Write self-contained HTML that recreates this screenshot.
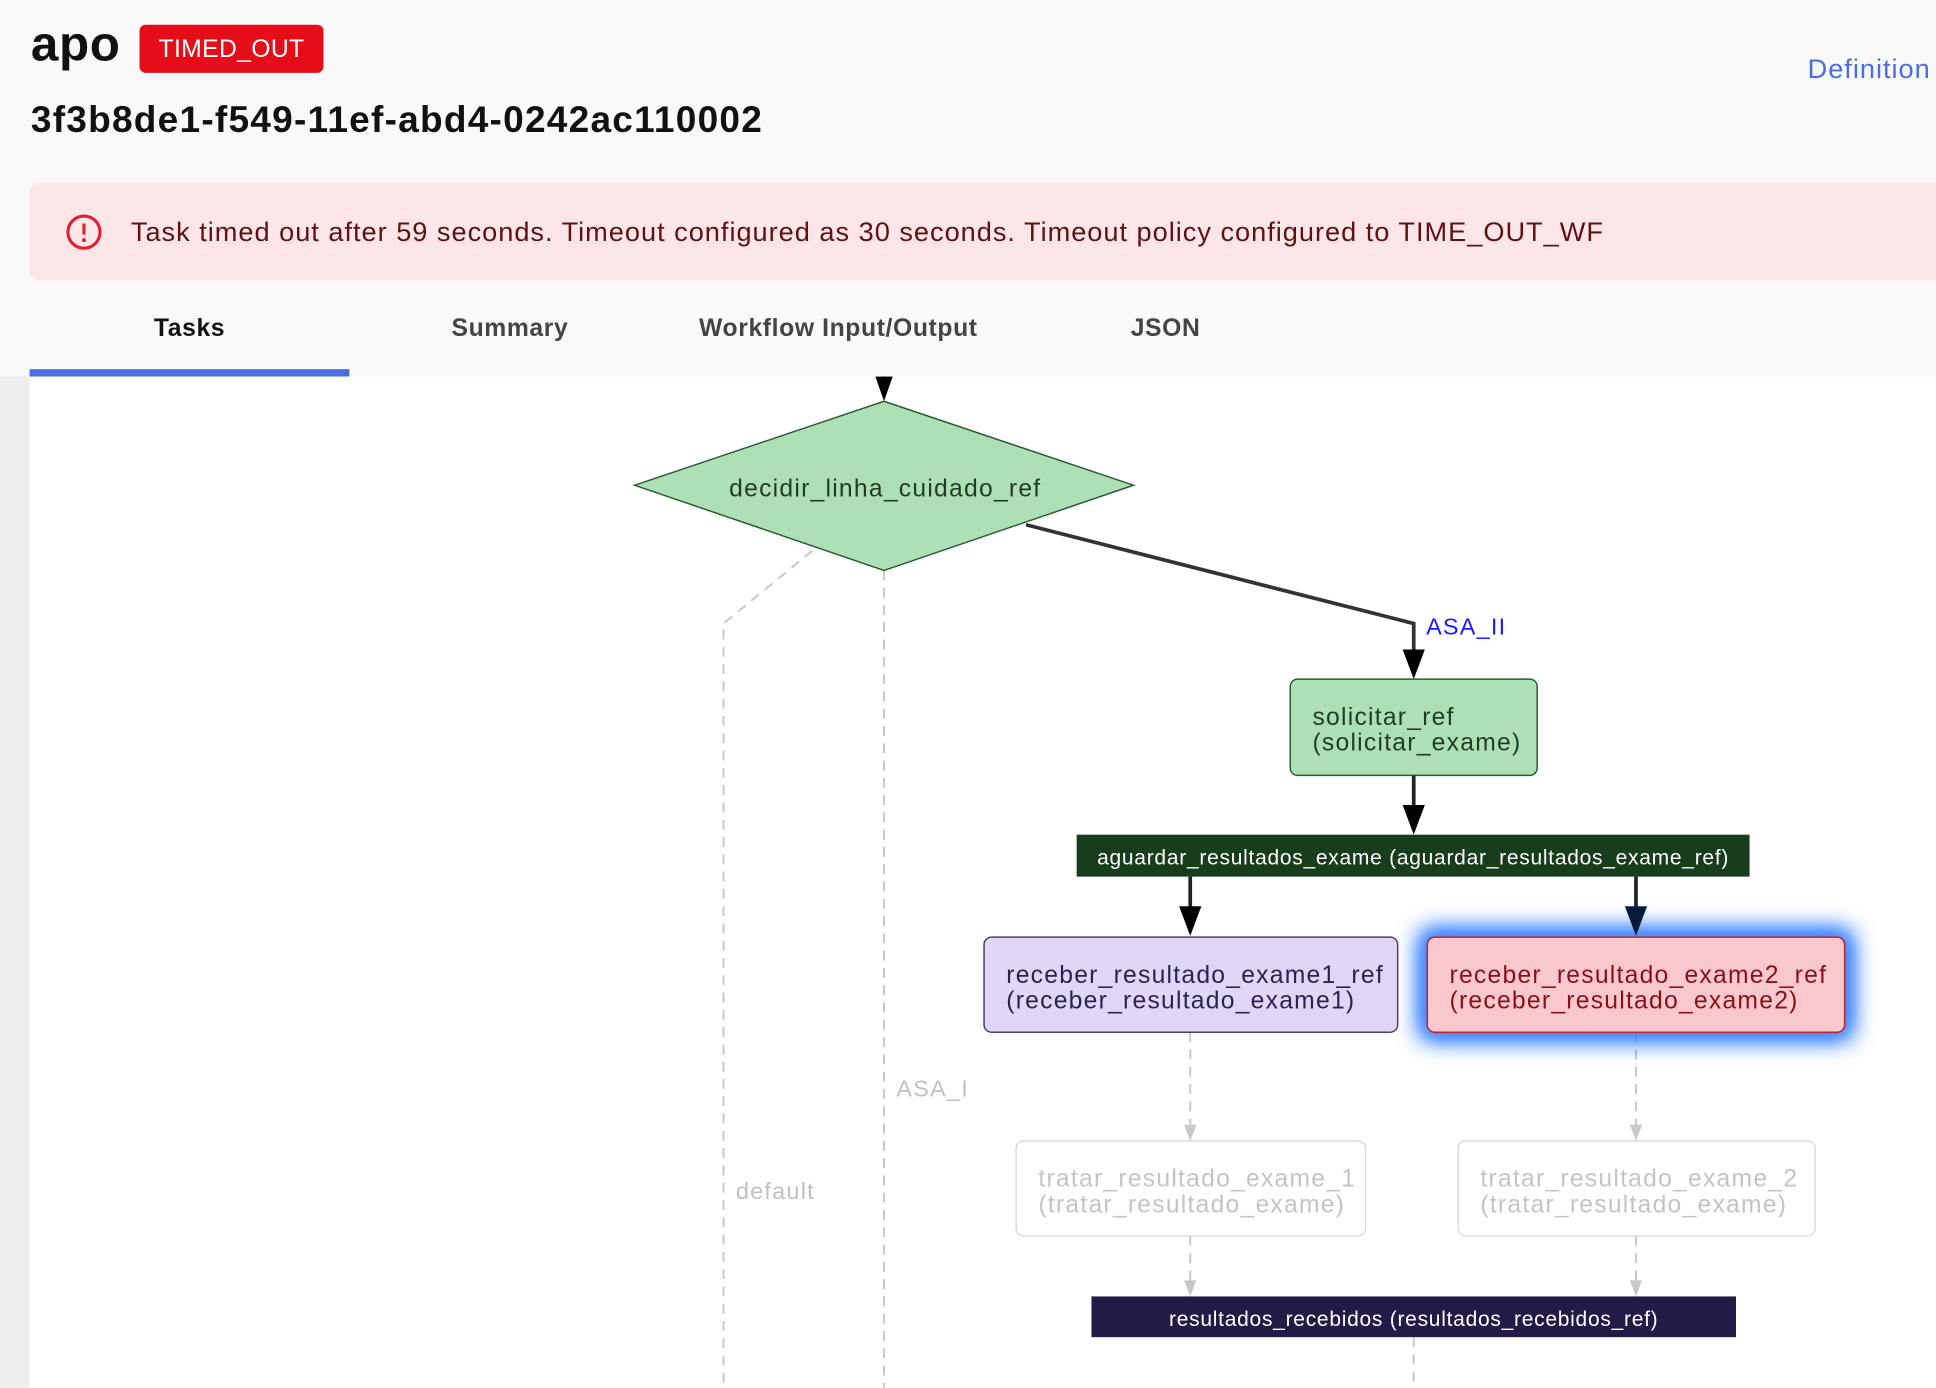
<!DOCTYPE html>
<html><head><meta charset="utf-8"><style>
html,body{margin:0;padding:0;}
body{width:1936px;height:1388px;overflow:hidden;background:#f9f9f9;font-family:"Liberation Sans",sans-serif;}
#w{position:absolute;left:0;top:0;width:1568px;height:1124px;transform:scale(1.234694);transform-origin:0 0;background:#f9f9f9;}
.a{position:absolute;white-space:nowrap;}
svg text{letter-spacing:1px;}
</style></head><body><div id="w">
<div class="a" style="left:25px;top:14px;font-size:40px;font-weight:bold;color:#111;line-height:44px;letter-spacing:0.5px;">apo</div>
<div class="a" style="left:113px;top:20px;width:149px;height:39px;background:#e50d18;border-radius:5px;color:#fff;font-size:20px;line-height:40px;text-align:center;letter-spacing:0.3px;">TIMED_OUT</div>
<div class="a" style="left:1464px;top:43px;font-size:22px;color:#4a6ee0;letter-spacing:0.8px;">Definition</div>
<div class="a" style="left:25px;top:81px;font-size:30px;font-weight:bold;color:#111;letter-spacing:1px;">3f3b8de1-f549-11ef-abd4-0242ac110002</div>
<div class="a" style="left:24px;top:148px;width:1560px;height:79px;background:#fde6e8;border-radius:8px;"></div>
<svg class="a" style="left:52px;top:173px" width="32" height="32"><circle cx="16" cy="15" r="13" fill="none" stroke="#e0202f" stroke-width="2.5"/><line x1="16" y1="8" x2="16" y2="17" stroke="#e0202f" stroke-width="2.5"/><circle cx="16" cy="21.5" r="1.6" fill="#e0202f"/></svg>
<div class="a" style="left:106px;top:175px;font-size:22px;color:#5f1015;letter-spacing:0.8px;">Task timed out after 59 seconds. Timeout configured as 30 seconds. Timeout policy configured to TIME_OUT_WF</div>
<div class="a" style="left:24px;top:255px;width:259px;text-align:center;font-size:20px;font-weight:bold;color:#111;letter-spacing:0.5px;">Tasks</div>
<div class="a" style="left:313px;top:255px;width:200px;text-align:center;font-size:20px;font-weight:bold;color:#444;letter-spacing:0.5px;">Summary</div>
<div class="a" style="left:539px;top:255px;width:280px;text-align:center;font-size:20px;font-weight:bold;color:#444;letter-spacing:0.5px;">Workflow Input/Output</div>
<div class="a" style="left:864px;top:255px;width:160px;text-align:center;font-size:20px;font-weight:bold;color:#444;letter-spacing:0.5px;">JSON</div>
<div class="a" style="left:24px;top:299px;width:259px;height:6px;background:#4a6ee0;"></div>
<div class="a" style="left:0;top:305px;width:24px;height:819px;background:#eeeeee;"></div>
<div class="a" style="left:24px;top:305px;width:1544px;height:819px;background:#fff;"></div>
<svg class="a" style="left:0;top:0" width="1568" height="1124" font-family="Liberation Sans, sans-serif">
<path d="M716,305 L716,310" stroke="#000" stroke-width="3"/>
<path d="M709,305 L723,305 L716,325 z" fill="#000"/>
<g stroke="#c8c8c8" stroke-width="1.6" stroke-dasharray="8,6" fill="none">
<path d="M658,446 L586,505 L586,1124"/>
<path d="M716,462 L716,1124"/>
<path d="M964,836 L964,912"/>
<path d="M1325,836 L1325,912"/>
<path d="M964,1001 L964,1038"/>
<path d="M1325,1001 L1325,1038"/>
<path d="M1145,1083 L1145,1124"/>
</g>
<g fill="#c8c8c8">
<path d="M959,911 L969,911 L964,924 z"/><path d="M1320,911 L1330,911 L1325,924 z"/>
<path d="M959,1037 L969,1037 L964,1050 z"/><path d="M1320,1037 L1330,1037 L1325,1050 z"/>
</g>
<text x="726" y="888" font-size="19" fill="#c0c0c0">ASA_I</text>
<text x="596" y="971" font-size="19" fill="#c0c0c0">default</text>
<polygon points="514,393 716,325 918,393 716,462" fill="#aee0b6" stroke="#2a5a33" stroke-width="1.2"/>
<text x="717" y="402" font-size="20" fill="#1f3d25" text-anchor="middle">decidir_linha_cuidado_ref</text>
<path d="M831,425 L1145,505 L1145,528" stroke="#333" stroke-width="3" fill="none"/>
<path d="M1136,526 L1154,526 L1145,550 z" fill="#000"/>
<text x="1155" y="514" font-size="19" fill="#1a1aff">ASA_II</text>
<rect x="1045" y="550" width="200" height="78" rx="6" fill="#aee0b6" stroke="#2a5a33" stroke-width="1.2"/>
<text x="1063" y="587" font-size="20" fill="#1f3d25">solicitar_ref</text>
<text x="1063" y="608" font-size="20" fill="#1f3d25">(solicitar_exame)</text>
<path d="M1145,628 L1145,654" stroke="#222" stroke-width="3"/>
<path d="M1136,652 L1154,652 L1145,676 z" fill="#000"/>
<rect x="872" y="676" width="545" height="34" fill="#173d1d"/>
<text x="1144.5" y="700" font-size="17" fill="#fff" text-anchor="middle" style="letter-spacing:0.6px">aguardar_resultados_exame (aguardar_resultados_exame_ref)</text>
<path d="M964,710 L964,736 M1325,710 L1325,736" stroke="#222" stroke-width="3"/>
<path d="M955,734 L973,734 L964,758 z" fill="#000"/>
<defs><filter id="gl" x="-30%" y="-60%" width="160%" height="220%"><feGaussianBlur stdDeviation="9"/></filter></defs>
<rect x="1150" y="753" width="350" height="89" rx="8" fill="#1a6dff" filter="url(#gl)"/>
<rect x="1153" y="756" width="344" height="83" rx="8" fill="#3a86ff" filter="url(#gl)"/>
<path d="M1316,734 L1334,734 L1325,758 z" fill="#061a3a"/>
<rect x="797" y="759" width="335" height="77" rx="6" fill="#e0d7f7" stroke="#4a3f6a" stroke-width="1.2"/>
<text x="815" y="796" font-size="20" fill="#2b2250">receber_resultado_exame1_ref</text>
<text x="815" y="817" font-size="20" fill="#2b2250">(receber_resultado_exame1)</text>
<rect x="1156" y="759" width="338" height="77" rx="6" fill="#f8c8cc" stroke="#c0202a" stroke-width="1.2"/>
<text x="1174" y="796" font-size="20" fill="#8b0f1a">receber_resultado_exame2_ref</text>
<text x="1174" y="817" font-size="20" fill="#8b0f1a">(receber_resultado_exame2)</text>
<rect x="823" y="924" width="283" height="77" rx="6" fill="#fff" stroke="#dcdcdc" stroke-width="1.2"/>
<text x="841" y="961" font-size="20" fill="#c4c4c4">tratar_resultado_exame_1</text>
<text x="841" y="982" font-size="20" fill="#c4c4c4">(tratar_resultado_exame)</text>
<rect x="1181" y="924" width="289" height="77" rx="6" fill="#fff" stroke="#dcdcdc" stroke-width="1.2"/>
<text x="1199" y="961" font-size="20" fill="#c4c4c4">tratar_resultado_exame_2</text>
<text x="1199" y="982" font-size="20" fill="#c4c4c4">(tratar_resultado_exame)</text>
<rect x="884" y="1050" width="522" height="33" fill="#231a45"/>
<text x="1145" y="1074" font-size="17" fill="#fff" text-anchor="middle" style="letter-spacing:0.6px">resultados_recebidos (resultados_recebidos_ref)</text>
</svg>
</div></body></html>
